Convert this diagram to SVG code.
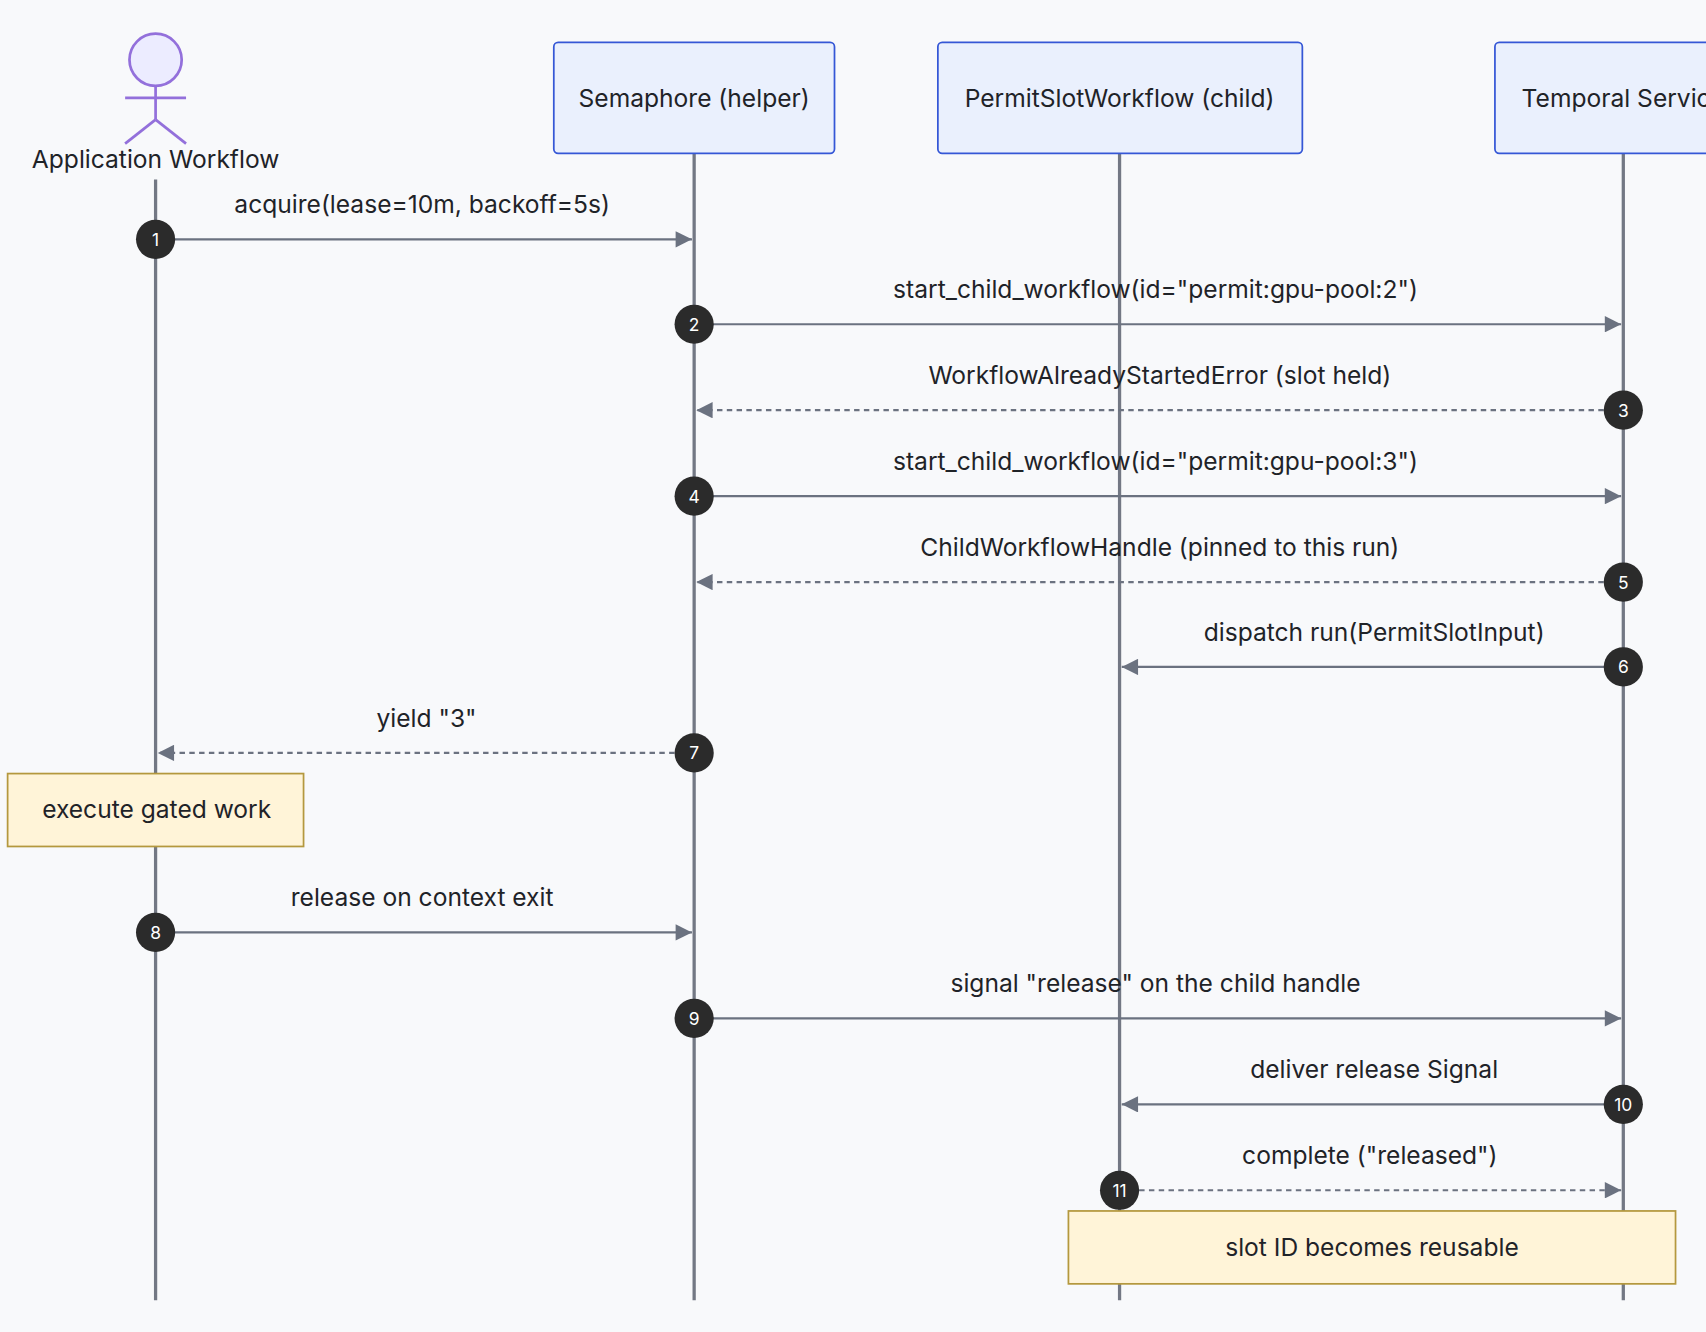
<svg xmlns="http://www.w3.org/2000/svg" width="1706" height="1332" viewBox="0 0 1706 1332">
<style>
text{font-family:Inter,"Liberation Sans",sans-serif;font-size:22.6px;fill:#1f2328;text-anchor:middle}
.part rect{fill:#EAF0FD;stroke:#3557D6;stroke-width:1.6}
.life{stroke:#737884;stroke-width:3}
.msg{stroke:#6B7280;stroke-width:2;fill:none}
.dash{stroke-dasharray:5,4}
.num circle{fill:#2b2b2b}
.num text{fill:#fff;font-size:16px}
.note rect{fill:#FFF4D8;stroke:#B4983E;stroke-width:1.6}
</style>
<defs><marker id="ah" viewBox="0 0 10 10" refX="10" refY="5" markerWidth="18" markerHeight="15" markerUnits="userSpaceOnUse" orient="auto"><path d="M0,0L10,5L0,10z" fill="#6B7280"/></marker></defs>
<rect width="1706" height="1332" fill="#F8F9FB"/>
<g transform="scale(1.08801)">
<g id="lifelines">
<line class="life" x1="143" y1="165" x2="143" y2="1195"/>
<line class="life" x1="638" y1="141" x2="638" y2="1195"/>
<line class="life" x1="1029" y1="141" x2="1029" y2="1195"/>
<line class="life" x1="1492" y1="141" x2="1492" y2="1195"/>
</g>
<g id="app">
<g fill="none" stroke="#9370DB" stroke-width="2.5"><circle cx="143" cy="55" r="24" fill="#ECECFF"/><line x1="143" y1="79" x2="143" y2="110"/><line x1="115" y1="90" x2="171" y2="90"/><line x1="143" y1="110" x2="115" y2="132"/><line x1="143" y1="110" x2="171" y2="132"/></g>
<text x="143" y="154">Application Workflow</text>
</g>
<g id="semaphore" class="part"><rect x="509" y="39" width="258" height="102" rx="4"/><text x="638" y="98">Semaphore (helper)</text></g>
<g id="permit" class="part"><rect x="862" y="39" width="335" height="102" rx="4"/><text x="1029" y="98">PermitSlotWorkflow (child)</text></g>
<g id="temporal" class="part"><rect x="1374" y="39" width="236" height="102" rx="4"/><text x="1492" y="98">Temporal Service</text></g>
<g id="connectors">
<line class="msg" x1="143" y1="220" x2="636" y2="220" marker-end="url(#ah)"/>
<line class="msg" x1="638" y1="298" x2="1490" y2="298" marker-end="url(#ah)"/>
<line class="msg dash" x1="1492" y1="377" x2="640" y2="377" marker-end="url(#ah)"/>
<line class="msg" x1="638" y1="456" x2="1490" y2="456" marker-end="url(#ah)"/>
<line class="msg dash" x1="1492" y1="535" x2="640" y2="535" marker-end="url(#ah)"/>
<line class="msg" x1="1492" y1="613" x2="1031" y2="613" marker-end="url(#ah)"/>
<line class="msg dash" x1="638" y1="692" x2="145" y2="692" marker-end="url(#ah)"/>
<line class="msg" x1="143" y1="857" x2="636" y2="857" marker-end="url(#ah)"/>
<line class="msg" x1="638" y1="936" x2="1490" y2="936" marker-end="url(#ah)"/>
<line class="msg" x1="1492" y1="1015" x2="1031" y2="1015" marker-end="url(#ah)"/>
<line class="msg dash" x1="1029" y1="1094" x2="1490" y2="1094" marker-end="url(#ah)"/>
<text x="388" y="196">acquire(lease=10m, backoff=5s)</text>
<text x="1062" y="274">start_child_workflow(id="permit:gpu-pool:2")</text>
<text x="1066" y="353">WorkflowAlreadyStartedError (slot held)</text>
<text x="1062" y="432">start_child_workflow(id="permit:gpu-pool:3")</text>
<text x="1066" y="511">ChildWorkflowHandle (pinned to this run)</text>
<text x="1263" y="589">dispatch run(PermitSlotInput)</text>
<text x="392" y="668">yield "3"</text>
<text x="388" y="833">release on context exit</text>
<text x="1062" y="912">signal "release" on the child handle</text>
<text x="1263" y="991">deliver release Signal</text>
<text x="1259" y="1070">complete ("released")</text>
</g>
<g class="num">
<circle cx="143" cy="220" r="18"/><text x="143" y="226">1</text>
<circle cx="638" cy="298" r="18"/><text x="638" y="304">2</text>
<circle cx="1492" cy="377" r="18"/><text x="1492" y="383">3</text>
<circle cx="638" cy="456" r="18"/><text x="638" y="462">4</text>
<circle cx="1492" cy="535" r="18"/><text x="1492" y="541">5</text>
<circle cx="1492" cy="613" r="18"/><text x="1492" y="619">6</text>
<circle cx="638" cy="692" r="18"/><text x="638" y="698">7</text>
<circle cx="143" cy="857" r="18"/><text x="143" y="863">8</text>
<circle cx="638" cy="936" r="18"/><text x="638" y="942">9</text>
<circle cx="1492" cy="1015" r="18"/><text x="1492" y="1021">10</text>
<circle cx="1029" cy="1094" r="18"/><text x="1029" y="1100">11</text>
</g>
<g id="note1" class="note"><rect x="7" y="711" width="272" height="67"/><text x="144" y="752">execute gated work</text></g>
<g id="note2" class="note"><rect x="982" y="1113" width="558" height="67"/><text x="1261" y="1154">slot ID becomes reusable</text></g>
</g>
</svg>
